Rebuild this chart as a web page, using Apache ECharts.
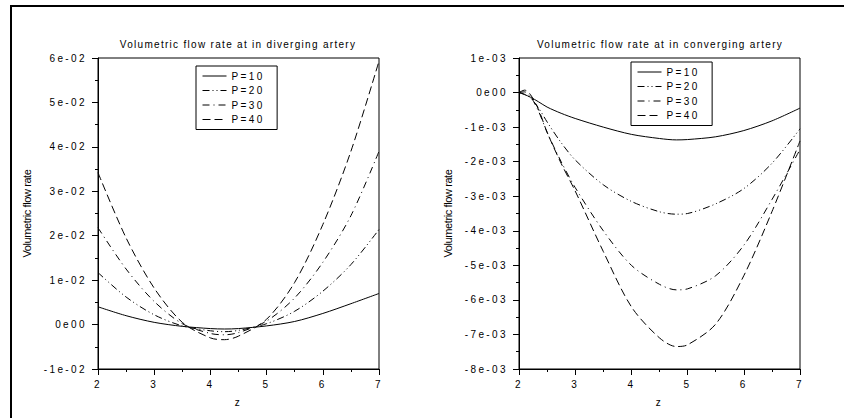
<!DOCTYPE html>
<html>
<head>
<meta charset="utf-8">
<title>Volumetric flow rate</title>
<script src="https://cdn.jsdelivr.net/npm/echarts@6/dist/echarts.min.js"></script>
<style>
html, body { margin: 0; padding: 0; background: #fff; }
#main { width: 844px; height: 418px; position: relative; }
#frame { position: absolute; left: 10px; top: 5px; right: 0; bottom: -5px;
  border-left: 2px solid #000; border-top: 2px solid #000; pointer-events: none; }
/* scilab style spaced lettering */
#main svg text { letter-spacing: 2.4px; }
#main svg text[style*="Arial"] { letter-spacing: 1.3px; }
#main svg text[style*="11px"] { letter-spacing: -0.4px; }
</style>
</head>
<body>
<div id="main"></div>
<div id="frame"></div>
<script>
// diverging artery
var zDiv = [2, 2.5, 3, 3.5, 4, 4.25, 4.5, 5, 5.5, 6, 6.5, 7];
var divP10 = [0.0040, 0.0020, 0.0005, -0.0004, -0.0009, -0.0010, -0.0009, -0.0003, 0.0007, 0.0025, 0.0047, 0.0070];
var divP20 = [0.0117, 0.0062, 0.0022, -0.0003, -0.0014, -0.0016, -0.0013, 0.0002, 0.0030, 0.0075, 0.0135, 0.0214];
var divP30 = [0.0218, 0.0125, 0.0052, 0.0002, -0.0020, -0.0023, -0.0018, 0.0008, 0.0060, 0.0140, 0.0245, 0.0390];
var divP40 = [0.0342, 0.0195, 0.0082, 0.0005, -0.0030, -0.0034, -0.0026, 0.0012, 0.0095, 0.0225, 0.0390, 0.0593];
var divTicks = ['-1e-02', '0e00', '1e-02', '2e-02', '3e-02', '4e-02', '5e-02', '6e-02'];

// converging artery
var zConv = [2, 2.1, 2.2, 2.35, 2.5, 2.75, 3, 3.5, 4, 4.5, 4.8, 5, 5.5, 6, 6.5, 7];
var convP10 = [0, -0.06e-3, -0.13e-3, -0.27e-3, -0.42e-3, -0.60e-3, -0.75e-3, -1.00e-3, -1.21e-3, -1.33e-3, -1.37e-3, -1.36e-3, -1.28e-3, -1.10e-3, -0.82e-3, -0.45e-3];
var convP20 = [0, -0.05e-3, -0.15e-3, -0.45e-3, -0.85e-3, -1.45e-3, -1.95e-3, -2.67e-3, -3.15e-3, -3.45e-3, -3.52e-3, -3.50e-3, -3.22e-3, -2.78e-3, -2.05e-3, -1.05e-3];
var convP30 = [0, 0.02e-3, -0.10e-3, -0.55e-3, -1.15e-3, -2.00e-3, -2.75e-3, -4.00e-3, -5.00e-3, -5.55e-3, -5.71e-3, -5.68e-3, -5.30e-3, -4.42e-3, -3.10e-3, -1.65e-3];
var convP40 = [0, 0.07e-3, -0.05e-3, -0.50e-3, -1.15e-3, -2.05e-3, -2.85e-3, -4.60e-3, -6.20e-3, -7.10e-3, -7.35e-3, -7.30e-3, -6.70e-3, -5.30e-3, -3.45e-3, -1.40e-3];
var convTicks = ['-8e-03', '-7e-03', '-6e-03', '-5e-03', '-4e-03', '-3e-03', '-2e-03', '-1e-03', '0e00', '1e-03'];

var names = ['P=10', 'P=20', 'P=30', 'P=40'];
var dashes = ['solid', [7, 3, 1, 3, 1, 3], [7, 4, 1, 4], [8, 4]];

var font = 'Liberation Sans';

var chart = echarts.init(document.getElementById('main'), null, { renderer: 'svg' });

function line(name, z, q, dash, idx) {
  return {
    name: name,
    type: 'line',
    xAxisIndex: idx,
    yAxisIndex: idx,
    data: z.map(function (v, i) { return [v, q[i]]; }),
    symbol: 'none',
    smooth: 0.3,
    color: '#000',
    lineStyle: { color: '#000', width: 1, type: dash }
  };
}

function xAxis(idx) {
  return {
    type: 'value',
    gridIndex: idx,
    min: 2, max: 7, interval: 1,
    name: 'z',
    nameLocation: 'middle',
    nameGap: 28,
    nameTextStyle: { color: '#000', fontFamily: font, fontSize: 10 },
    axisLine: { onZero: false, lineStyle: { color: '#000', width: 1 } },
    axisTick: { length: 6, lineStyle: { color: '#000' } },
    minorTick: { show: true, splitNumber: 2, length: 3, lineStyle: { color: '#000' } },
    axisLabel: { margin: 10, color: '#000', fontFamily: font, fontSize: 10 },
    splitLine: { show: false }
  };
}

function yAxis(idx, min, max, step, labels) {
  return {
    type: 'value',
    gridIndex: idx,
    min: min, max: max, interval: step,
    name: 'Volumetric flow rate',
    nameLocation: 'middle',
    nameRotate: 90,
    nameGap: 66,
    nameTextStyle: { color: '#000', fontFamily: font, fontSize: 11 },
    axisLine: { onZero: false, lineStyle: { color: '#000', width: 1 } },
    axisTick: { length: 6, lineStyle: { color: '#000' } },
    minorTick: { show: true, splitNumber: 2, length: 3, lineStyle: { color: '#000' } },
    axisLabel: {
      margin: 11, color: '#000', fontFamily: font, fontSize: 10,
      formatter: function (v, i) { return labels[i]; }
    },
    splitLine: { show: false }
  };
}

function legend(left, top) {
  return {
    orient: 'vertical',
    left: left,
    top: top,
    data: names,
    itemWidth: 24,
    itemHeight: 10,
    itemGap: 4.5,
    padding: [5, 22, 5, 6],
    borderColor: '#000',
    borderWidth: 1,
    backgroundColor: '#fff',
    selectedMode: false,
    itemStyle: { opacity: 0 },
    lineStyle: { width: 1 },
    textStyle: { color: '#000', fontFamily: font, fontSize: 10 }
  };
}

var series = [];
[divP10, divP20, divP30, divP40].forEach(function (q, i) {
  series.push(line(names[i], zDiv, q, dashes[i], 0));
});
[convP10, convP20, convP30, convP40].forEach(function (q, i) {
  series.push(line(names[i], zConv, q, dashes[i], 1));
});

chart.setOption({
  animation: false,
  backgroundColor: '#fff',
  title: [
    { text: 'Volumetric flow rate at in diverging artery', left: 238, top: 39, textAlign: 'center', padding: 0,
      textStyle: { color: '#000', fontFamily: 'Arial', fontSize: 10, fontWeight: 'normal' } },
    { text: 'Volumetric flow rate at in converging artery', left: 660, top: 39, textAlign: 'center', padding: 0,
      textStyle: { color: '#000', fontFamily: 'Arial', fontSize: 10, fontWeight: 'normal' } }
  ],
  legend: [legend(196, 66), legend(631, 62)],
  grid: [
    { left: 98, top: 58, width: 281, height: 311, show: true, borderColor: '#000', borderWidth: 1 },
    { left: 519, top: 58, width: 281, height: 311, show: true, borderColor: '#000', borderWidth: 1 }
  ],
  xAxis: [xAxis(0), xAxis(1)],
  yAxis: [yAxis(0, -0.01, 0.06, 0.01, divTicks), yAxis(1, -0.008, 0.001, 0.001, convTicks)],
  series: series
});
</script>
</body>
</html>
